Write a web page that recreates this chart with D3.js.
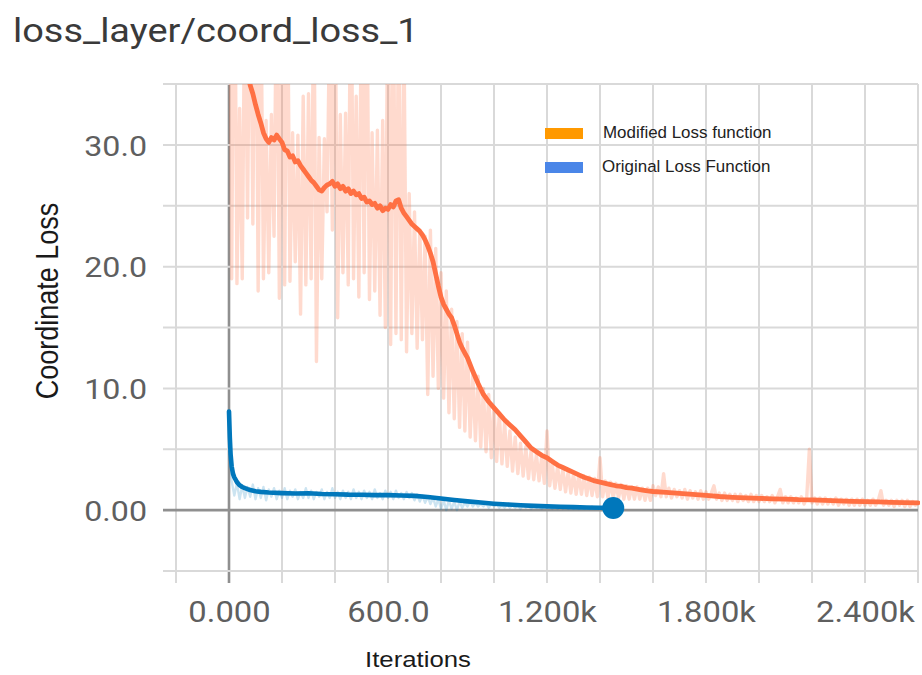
<!DOCTYPE html>
<html>
<head>
<meta charset="utf-8">
<script src="https://cdn.jsdelivr.net/npm/d3@7"></script>
<style>
  html, body { margin: 0; padding: 0; background: #ffffff; }
  svg { display: block; }
</style>
</head>
<body>
<svg id="chart" width="922" height="675"></svg>
<script>
// ---- data -------------------------------------------------------------
const chartTitle = "loss_layer/coord_loss_1";
const xTitle = "Iterations";
const yTitle = "Coordinate Loss";
const seriesNames = ["Modified Loss function", "Original Loss Function"];

// tick positions and their labels
const xGridValues = [-200, 0, 200, 400, 600, 800, 1000, 1200, 1400, 1600, 1800, 2000, 2200, 2400, 2600];
const xLabelValues = [0, 600, 1200, 1800, 2400];
const xLabelTexts = ["0.000", "600.0", "1.200k", "1.800k", "2.400k"];
const yGridValues = [-5, 0, 5, 10, 15, 20, 25, 30, 35];
const yLabelValues = [0, 10, 20, 30];
const yLabelTexts = ["0.00", "10.0", "20.0", "30.0"];

// raw values, logged every 10 iterations
const rawInterval = 10;
const modifiedRaw = [
  58, 19, 52, 18.6, 33, 19, 45, 24, 48, 23.5,
  50, 18, 44, 19, 32, 19.5, 32.5, 22.5, 46, 17.4,
  42, 18.5, 47, 18.8, 31, 20.4, 30.8, 16.1, 34, 18.5,
  34.2, 19, 44, 12.2, 30.6, 19, 30.5, 24.5, 41, 23,
  45, 15.8, 32.5, 19.5, 32.6, 18.5, 48, 19, 34, 17.5,
  43, 19.5, 45, 17.3, 31, 18, 31.2, 16, 32, 15,
  46, 13.6, 44, 14.5, 42, 14, 40, 13, 26, 14.5,
  24.5, 13.3, 23, 14, 22.5, 9.5, 23, 11, 21.5, 10,
  19.5, 9.2, 18, 8, 16.5, 7.5, 15.5, 6.8, 14.5, 6.5,
  13.8, 6, 11.2, 5.7, 11, 5.2, 10, 4.8, 9.5, 4.3,
  8.5, 4, 7.9, 3.8, 7.2, 3.6, 6.5, 3.2, 6.0, 3.0,
  5.5, 2.8, 5.2, 2.6, 4.9, 2.5, 4.6, 2.4, 4.4, 2.2,
  6.5, 2.0, 3.8, 1.8, 3.6, 1.7, 3.4, 1.5, 3.2, 1.4,
  3.0, 1.3, 2.9, 1.3, 2.8, 1.2, 2.7, 1.2, 2.6, 1.1,
  4.3, 1.1, 2.4, 1.0, 2.3, 1.0, 2.2, 1.0, 2.1, 0.9,
  2.0, 0.9, 1.9, 0.9, 1.9, 0.9, 1.8, 0.8, 1.8, 0.8,
  2.0, 1.2, 1.9, 1.1, 3.0, 1.1, 1.8, 1.0, 1.7, 1.1,
  1.6, 1.0, 1.7, 0.9, 1.6, 1.0, 1.5, 0.9, 1.6, 0.9,
  1.5, 0.9, 1.4, 2.0, 0.9, 1.4, 0.8, 1.4, 0.8, 1.3,
  0.8, 1.3, 0.7, 1.3, 0.8, 1.2, 0.7, 1.3, 0.7, 1.2,
  0.7, 1.2, 0.7, 1.1, 0.7, 1.2, 0.6, 1.1, 1.7, 0.6,
  1.1, 0.6, 1.1, 0.6, 1.0, 0.6, 1.1, 0.5, 1.0, 5.0,
  0.6, 1.0, 0.5, 1.0, 0.5, 1.0, 0.5, 0.9, 0.5, 1.0,
  0.4, 0.9, 0.5, 0.9, 0.4, 0.9, 0.4, 0.9, 0.4, 0.9,
  0.4, 0.8, 0.4, 0.9, 0.4, 0.8, 1.6, 0.4, 0.8, 0.4,
  0.8, 0.3, 0.8, 0.4, 0.8, 0.3, 0.8, 0.3, 0.7, 0.4,
  0.7
];
const originalRaw = [
  8.1, 2.4, 1.2, 2.2, 0.9, 2.0, 1.0, 1.9, 1.1, 2.1,
  0.9, 1.8, 1.0, 1.9, 0.8, 1.7, 1.1, 1.8, 0.9, 1.6,
  1.0, 1.8, 0.9, 1.6, 1.1, 1.7, 0.9, 1.5, 1.0, 1.8,
  1.0, 1.6, 0.9, 1.5, 1.1, 1.7, 0.9, 1.5, 1.0, 1.8,
  1.0, 1.5, 0.9, 1.6, 1.0, 1.5, 0.9, 1.7, 1.0, 1.5,
  0.9, 1.6, 1.0, 1.5, 0.9, 1.7, 1.0, 1.4, 0.9, 1.6,
  1.0, 1.5, 0.9, 1.6, 1.0, 1.4, 0.9, 1.5, 1.0, 1.4,
  0.8, 1.3, 0.7, 1.2, 0.6, 1.1, 0.5, 1.0, 0.3, 0.9,
  0.1, 0.8, 0.0, 0.8, 0.1, 0.7, 0.0, 0.7, 0.2, 0.6,
  0.3, 0.7, 0.3, 0.6, 0.3, 0.5, 0.3, 0.6, 0.2, 0.5,
  0.3, 0.5, 0.2, 0.4, 0.2, 0.5, 0.2, 0.4, 0.2, 0.4,
  0.1, 0.4, 0.2, 0.4, 0.1, 0.4, 0.2, 0.3, 0.1, 0.4,
  0.2, 0.3, 0.1, 0.3, 0.1, 0.3, 0.1, 0.3, 0.1, 0.3,
  0.1, 0.3, 0.1, 0.3, 0.1, 0.2, 0.1, 0.3, 0.1, 0.2,
  0.1, 0.2, 0.1, 0.2, 0.1, 0.2
];

// smoothed curves
const modifiedSmoothSteps = [
  0, 20, 40, 60, 70, 80, 90, 100, 110, 120, 130, 140, 150, 160, 170, 180, 190, 200,
  210, 220, 230, 240, 250, 260, 270, 280, 290, 300, 310, 320, 330, 340, 350, 360,
  370, 380, 390, 400, 410, 420, 430, 440, 450, 460, 470, 480, 490, 500, 510, 520,
  530, 540, 550, 560, 570, 580, 590, 600, 610, 620, 630, 640, 650, 660, 670, 680,
  690, 700, 710, 720, 730, 740, 750, 760, 770, 780, 790, 800, 810, 820, 830, 840,
  850, 860, 870, 880, 890, 900, 920, 940, 960, 980, 1000, 1020, 1040, 1060, 1080,
  1100, 1120, 1140, 1160, 1180, 1200, 1220, 1240, 1260, 1280, 1300, 1320, 1340,
  1360, 1380, 1400, 1420, 1440, 1460, 1480, 1500, 1520, 1540, 1560, 1580, 1600,
  1650, 1700, 1750, 1800, 1850, 1900, 1950, 2000, 2050, 2100, 2150, 2200, 2250,
  2300, 2350, 2400, 2450, 2500, 2550, 2600
];
const modifiedSmooth = [
  50, 45, 40.5, 37, 35.8, 34.9, 34.2, 33.3, 32.5, 31.8, 31.0, 30.5, 30.2, 30.6, 30.4, 30.8, 30.5, 30.2,
  29.6, 29.5, 29.0, 29.1, 28.6, 28.7, 28.3, 28.0, 27.7, 27.4, 27.1, 26.9, 26.6, 26.3, 26.2, 26.5,
  26.7, 26.8, 27.0, 26.6, 26.8, 26.4, 26.6, 26.2, 26.4, 26.0, 26.2, 25.9, 26.0, 25.6, 25.7, 25.3,
  25.4, 25.1, 25.2, 24.8, 25.0, 24.6, 24.8, 24.7, 25.1, 24.9, 25.4, 25.5, 24.8, 24.4, 24.1, 23.8,
  23.5, 23.3, 23.1, 22.9, 22.6, 22.2, 21.7, 21.1, 20.4, 19.4, 18.4, 17.5, 16.9, 16.5, 16.1, 15.8,
  15.2, 14.5, 13.8, 13.3, 12.9, 12.5, 11.4, 10.4, 9.5, 8.9, 8.4, 7.9, 7.4, 7.0, 6.6,
  6.1, 5.6, 5.1, 4.8, 4.5, 4.3, 4.0, 3.7, 3.5, 3.3, 3.1, 2.9, 2.7,
  2.55, 2.4, 2.3, 2.2, 2.1, 2.0, 1.95, 1.85, 1.8, 1.72, 1.65, 1.58, 1.53,
  1.45, 1.38, 1.3, 1.22, 1.12, 1.05, 1.0, 0.97, 0.93, 0.9, 0.86, 0.85, 0.8,
  0.76, 0.72, 0.7, 0.67, 0.64, 0.62, 0.6
];
const originalSmoothSteps = [
  0, 3, 6, 10, 15, 20, 30, 40, 50, 60, 70, 80, 100, 120, 150, 200, 250, 300, 350, 400,
  450, 500, 550, 600, 650, 700, 750, 800, 850, 900, 950, 1000, 1050, 1100, 1150, 1200,
  1250, 1300, 1350, 1400, 1450
];
const originalSmooth = [
  8.1, 6.0, 4.6, 3.6, 3.0, 2.7, 2.3, 2.05, 1.9, 1.8, 1.72, 1.65, 1.55, 1.5, 1.45, 1.4, 1.37, 1.38, 1.33, 1.31,
  1.27, 1.26, 1.23, 1.23, 1.2, 1.17, 1.08, 0.95, 0.83, 0.72, 0.62, 0.53, 0.46, 0.4, 0.35, 0.31,
  0.28, 0.25, 0.22, 0.2, 0.18
];

// ---- layout -----------------------------------------------------------
const svg = d3.select("#chart");
const plot = { left: 177, right: 918, top: 84, bottom: 571 };
const stretch = 1.13;
const tickFont = "Roboto, 'Noto Sans', sans-serif";
const plainFont = "'Liberation Sans', Arial, sans-serif";

const x = d3.scaleLinear().domain([-200, 2600]).range([176, 918]);
const y = d3.scaleLinear().domain([-5, 35]).range([plot.bottom, plot.top]);

const orange = "#ff7043";
const blue = "#0077bb";

// ---- grid -------------------------------------------------------------
const grid = svg.append("g");
grid.selectAll("line.v").data(xGridValues).join("line")
  .attr("x1", d => x(d)).attr("x2", d => x(d))
  .attr("y1", plot.top).attr("y2", plot.bottom + 12)
  .attr("stroke", d => d === 0 ? "#8f8f8f" : "#d9d9d9")
  .attr("stroke-width", d => d === 0 ? 2.6 : 2);
grid.selectAll("line.h").data(yGridValues).join("line")
  .attr("x1", plot.left - 14).attr("x2", plot.right)
  .attr("y1", d => y(d)).attr("y2", d => y(d))
  .attr("stroke", d => d === 0 ? "#8f8f8f" : "#d9d9d9")
  .attr("stroke-width", d => d === 0 ? 2.6 : 2);

// ---- axes labels ------------------------------------------------------
const xLabelMap = new Map(xLabelValues.map((v, i) => [v, xLabelTexts[i]]));
const xAxis = svg.append("g")
  .attr("transform", `translate(0,${plot.bottom})`)
  .call(d3.axisBottom(x).tickValues(xLabelValues).tickSize(0)
    .tickFormat(d => xLabelMap.get(d)));
xAxis.select(".domain").remove();
xAxis.selectAll("text")
  .attr("y", 51).attr("dy", 0)
  .attr("font-family", tickFont).attr("font-size", 29)
  .attr("fill", "#5f5f5f")
  .attr("transform", `scale(${stretch},1)`);

const yLabelMap = new Map(yLabelValues.map((v, i) => [v, yLabelTexts[i]]));
const yAxis = svg.append("g")
  .attr("transform", `translate(${plot.left},0)`)
  .call(d3.axisLeft(y).tickValues(yLabelValues).tickSize(0)
    .tickFormat(d => yLabelMap.get(d)));
yAxis.select(".domain").remove();
yAxis.selectAll("text")
  .attr("x", -30 / stretch).attr("dy", "0.36em")
  .attr("font-family", tickFont).attr("font-size", 28.5)
  .attr("fill", "#5f5f5f")
  .attr("transform", `scale(${stretch},1)`);

// ---- series -----------------------------------------------------------
svg.append("defs").append("clipPath").attr("id", "plot-clip")
  .append("rect")
  .attr("x", 176).attr("y", plot.top)
  .attr("width", plot.right - 176 + 2).attr("height", plot.bottom - plot.top);

const line = d3.line().x(d => x(d.step)).y(d => y(d.value));
const toPoints = (steps, values) => values.map((v, i) => ({ step: steps[i], value: v }));
const rawSteps = arr => arr.map((_, i) => i * rawInterval);

const series = svg.append("g").attr("clip-path", "url(#plot-clip)");
series.append("path")
  .datum(toPoints(rawSteps(modifiedRaw), modifiedRaw))
  .attr("d", line).attr("fill", "none")
  .attr("stroke", orange).attr("stroke-opacity", 0.26)
  .attr("stroke-width", 3.4).attr("stroke-linejoin", "round");
series.append("path")
  .datum(toPoints(rawSteps(originalRaw), originalRaw))
  .attr("d", line).attr("fill", "none")
  .attr("stroke", blue).attr("stroke-opacity", 0.2)
  .attr("stroke-width", 2.4).attr("stroke-linejoin", "round");
series.append("path")
  .datum(toPoints(modifiedSmoothSteps, modifiedSmooth))
  .attr("d", line).attr("fill", "none")
  .attr("stroke", orange).attr("stroke-width", 4.8)
  .attr("stroke-linejoin", "round").attr("stroke-linecap", "round");
const originalPoints = toPoints(originalSmoothSteps, originalSmooth);
series.append("path")
  .datum(originalPoints)
  .attr("d", line).attr("fill", "none")
  .attr("stroke", blue).attr("stroke-width", 4.6)
  .attr("stroke-linejoin", "round").attr("stroke-linecap", "round");
const last = originalPoints[originalPoints.length - 1];
svg.append("circle")
  .attr("cx", x(last.step)).attr("cy", y(last.value)).attr("r", 11)
  .attr("fill", blue);

// ---- titles -----------------------------------------------------------
svg.append("text")
  .attr("transform", `translate(13,42) scale(1.15,1)`)
  .attr("font-family", tickFont).attr("font-size", 33)
  .attr("fill", "#3a3a3a")
  .text(chartTitle);

svg.append("text")
  .attr("transform", `translate(418,667) scale(1.17,1)`)
  .attr("text-anchor", "middle")
  .attr("font-family", plainFont).attr("font-size", 22)
  .attr("fill", "#1a1a1a")
  .text(xTitle);

svg.append("text")
  .attr("transform", `translate(58,301) scale(${stretch},1) rotate(-90)`)
  .attr("text-anchor", "middle")
  .attr("font-family", plainFont).attr("font-size", 27)
  .attr("fill", "#1a1a1a")
  .text(yTitle);

// ---- legend -----------------------------------------------------------
const legendColors = ["#ff9900", "#4a86e8"];
const legend = svg.append("g");
const legendRows = legend.selectAll("g").data(seriesNames).join("g")
  .attr("transform", (d, i) => `translate(545,${128 + i * 34})`);
legendRows.append("rect")
  .attr("width", 38).attr("height", 11)
  .attr("fill", (d, i) => legendColors[i]);
legendRows.append("text")
  .attr("transform", (d, i) => `translate(${i === 0 ? 58 : 57},10) scale(1.04,1)`)
  .attr("font-family", plainFont).attr("font-size", 16.3)
  .attr("fill", "#222")
  .text(d => d);
</script>
</body>
</html>
